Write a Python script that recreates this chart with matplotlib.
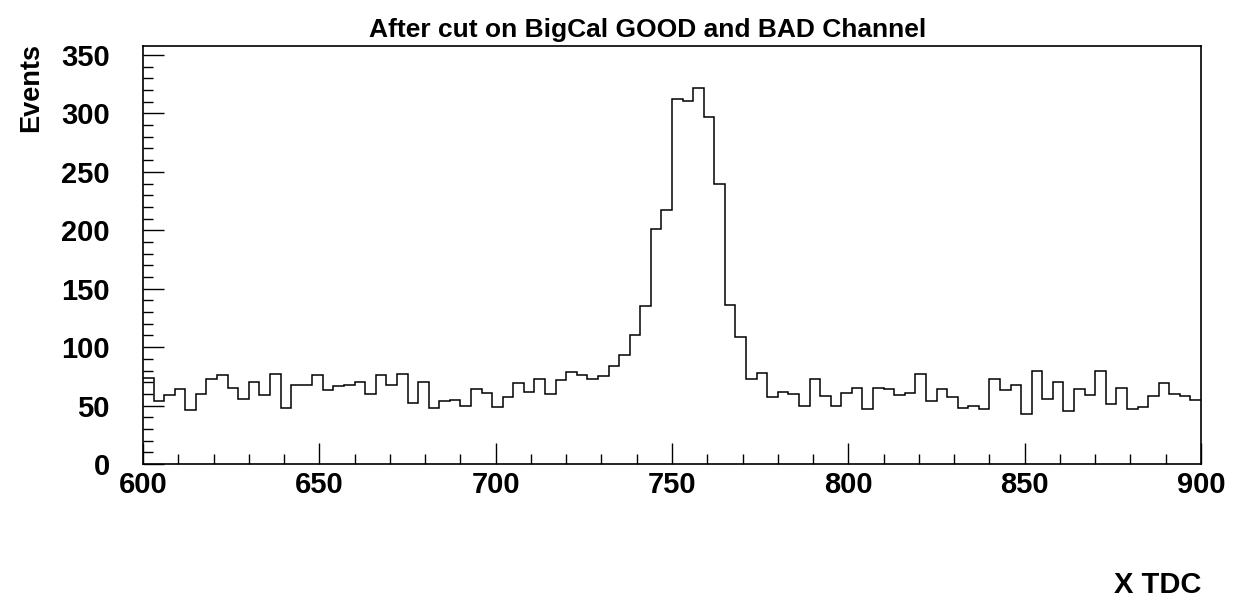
import numpy as np
import matplotlib

matplotlib.use("Agg")
import matplotlib.pyplot as plt
from matplotlib.ticker import MultipleLocator

# histogram: 100 bins of width 3 over 600-900 (X TDC)
x_lo, x_hi, n_bins = 600, 900, 100
counts = [
    74, 54, 59, 64, 46, 60, 73, 76, 65, 56,
    70, 59, 77, 48, 68, 68, 76, 63, 67, 68,
    70, 60, 76, 68, 77, 52, 70, 48, 54, 55,
    50, 64, 61, 49, 57, 69, 62, 73, 60, 72,
    79, 76, 73, 75, 84, 93, 110, 135, 201, 217,
    312, 311, 322, 297, 240, 136, 109, 73, 78, 57,
    62, 60, 50, 73, 58, 50, 61, 65, 47, 65,
    64, 59, 61, 77, 54, 64, 57, 48, 50, 47,
    73, 63, 68, 43, 80, 56, 70, 45, 64, 59,
    80, 51, 65, 47, 49, 58, 69, 60, 58, 55,
]
y_max = 357.7

plt.rcParams["font.family"] = ["Liberation Sans", "DejaVu Sans"]
plt.rcParams["font.weight"] = "bold"

fig = plt.figure(figsize=(12.39, 5.98), dpi=100)
ax = fig.add_axes([143 / 1239, 1 - 464 / 598, 1058 / 1239, 418 / 598])

edges = np.linspace(x_lo, x_hi, n_bins + 1)
ax.stairs(counts, edges, color="black", linewidth=1.1, baseline=None)

ax.set_xlim(x_lo, x_hi)
ax.set_ylim(0, y_max)

ax.xaxis.set_major_locator(MultipleLocator(50))
ax.xaxis.set_minor_locator(MultipleLocator(10))
ax.yaxis.set_major_locator(MultipleLocator(50))
ax.yaxis.set_minor_locator(MultipleLocator(10))

ax.tick_params(which="both", direction="in", top=False, right=False,
               width=1.0, colors="black")
ax.tick_params(which="major", length=15, labelsize=21)
ax.tick_params(axis="y", which="major", pad=24)
ax.tick_params(axis="x", which="major", pad=5)
ax.tick_params(which="minor", length=7.5)
for lab in ax.get_xticklabels() + ax.get_yticklabels():
    lab.set_fontweight("bold")

for s in ax.spines.values():
    s.set_linewidth(1.2)
    s.set_color("black")

fig.text(648 / 1239, 1 - 30 / 598, "After cut on BigCal GOOD and BAD Channel",
         ha="center", va="center", fontsize=19, fontweight="bold")
fig.text(31 / 1239, 1 - 88 / 598, "Events", rotation=90,
         ha="center", va="center", fontsize=19.5, fontweight="bold")
fig.text(1201 / 1239, 1 - 585 / 598, "X TDC",
         ha="right", va="center", fontsize=21, fontweight="bold")

fig.savefig("out.png", dpi=100)
